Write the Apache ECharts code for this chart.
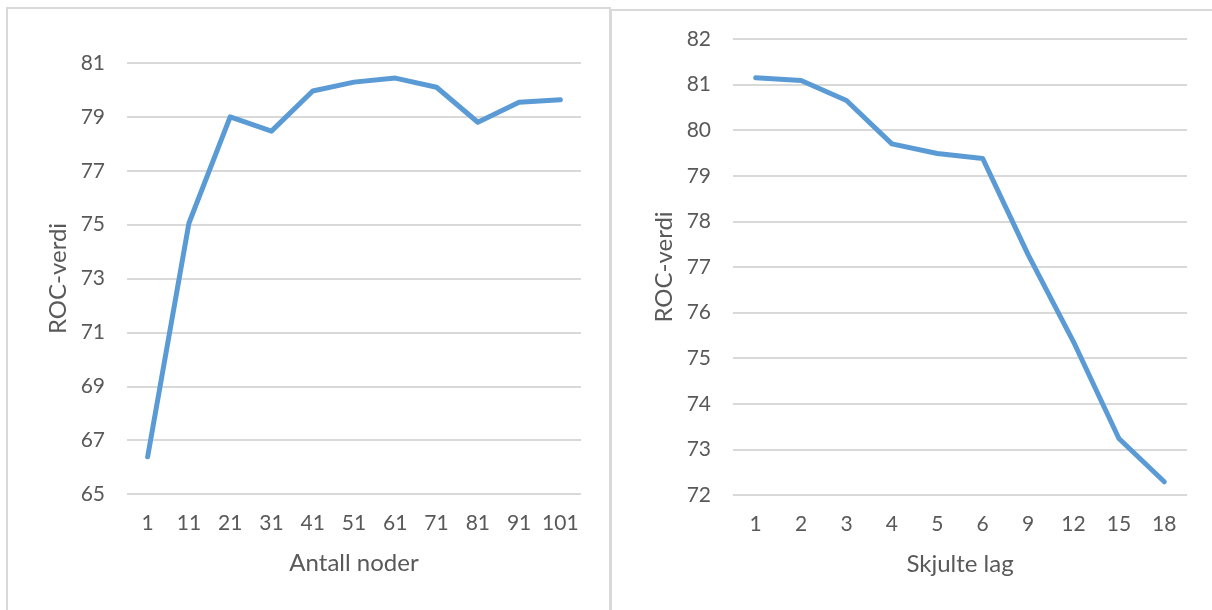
<!DOCTYPE html>
<html>
<head>
<meta charset="utf-8">
<title>ROC-verdi</title>
<script src="https://cdn.jsdelivr.net/npm/echarts@6/dist/echarts.min.js"></script>
<style>
  html, body { margin: 0; padding: 0; background: #ffffff; }
  #chart { width: 1212px; height: 610px; }
</style>
</head>
<body>
<div id="chart"></div>
<script>
// Left panel: ROC value against number of nodes
const nodeCategories = ['1', '11', '21', '31', '41', '51', '61', '71', '81', '91', '101'];
const nodeRoc = [66.38, 75.05, 79.0, 78.47, 79.96, 80.29, 80.44, 80.10, 78.80, 79.54, 79.64];
const nodeTicks = [65, 67, 69, 71, 73, 75, 77, 79, 81];

// Right panel: ROC value against number of hidden layers
const layerCategories = ['1', '2', '3', '4', '5', '6', '9', '12', '15', '18'];
const layerRoc = [81.15, 81.09, 80.65, 79.70, 79.49, 79.38, 77.27, 75.36, 73.24, 72.29];

const xTitles = ['Antall noder', 'Skjulte lag'];
const yTitle = 'ROC-verdi';

const FONT = 'Lato, "Open Sans", sans-serif';
const TEXT = '#595959';
const GRID = '#d9d9d9';
const LINE = '#5b9bd5';

const labelStyle = { color: TEXT, fontFamily: FONT, fontSize: 21 };
const titleStyle = { color: TEXT, fontFamily: FONT, fontSize: 24 };

function catAxis(gridIndex, data, name) {
  return {
    type: 'category',
    gridIndex: gridIndex,
    data: data,
    boundaryGap: true,
    axisLine: { show: false },
    axisTick: { show: false },
    axisLabel: Object.assign({ margin: 19, interval: 0 }, labelStyle),
    name: name,
    nameLocation: 'middle',
    nameGap: 57,
    nameTextStyle: titleStyle
  };
}

function valAxis(gridIndex, extra) {
  return Object.assign({
    type: 'value',
    gridIndex: gridIndex,
    name: yTitle,
    nameLocation: 'middle',
    nameGap: 57,
    nameTextStyle: titleStyle,
    axisLine: { show: false },
    axisTick: { show: false },
    axisLabel: Object.assign({ margin: 22 }, labelStyle),
    splitLine: { show: true, lineStyle: { color: GRID, width: 2 } }
  }, extra);
}

const chart = echarts.init(document.getElementById('chart'), null, { renderer: 'canvas' });

chart.setOption({
  backgroundColor: '#ffffff',
  animation: false,
  graphic: [
    { type: 'rect', shape: { x: 7, y: 8, width: 603, height: 640 },
      style: { fill: 'none', stroke: GRID, lineWidth: 2 }, z: -10 },
    { type: 'rect', shape: { x: 611, y: 10, width: 640, height: 640 },
      style: { fill: 'none', stroke: GRID, lineWidth: 2 }, z: -10 }
  ],
  grid: [
    { left: 127, top: 63, width: 454, height: 431 },
    { left: 733, top: 39, width: 454, height: 456 }
  ],
  xAxis: [
    catAxis(0, nodeCategories, xTitles[0]),
    catAxis(1, layerCategories, xTitles[1])
  ],
  yAxis: [
    valAxis(0, {
      min: nodeTicks[0],
      max: nodeTicks[nodeTicks.length - 1],
      axisTick: { show: false, customValues: nodeTicks },
      axisLabel: Object.assign({ margin: 22, customValues: nodeTicks }, labelStyle)
    }),
    valAxis(1, { min: 72, max: 82, interval: 1 })
  ],
  series: [
    {
      type: 'line', xAxisIndex: 0, yAxisIndex: 0, data: nodeRoc,
      symbol: 'none', lineStyle: { color: LINE, width: 5, cap: 'round', join: 'round' }
    },
    {
      type: 'line', xAxisIndex: 1, yAxisIndex: 1, data: layerRoc,
      symbol: 'none', lineStyle: { color: LINE, width: 5, cap: 'round', join: 'round' }
    }
  ]
});
</script>
</body>
</html>
